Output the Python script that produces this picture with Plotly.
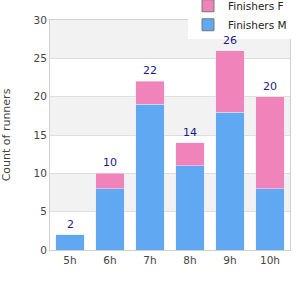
import plotly.graph_objects as go

categories = ["5h", "6h", "7h", "8h", "9h", "10h"]
finishers_m = [2, 8, 19, 11, 18, 8]
finishers_f = [0, 2, 3, 3, 8, 12]
totals = [m + f for m, f in zip(finishers_m, finishers_f)]
y_title = "Count of runners"

blue = "#60a8f2"
pink = "#f183bb"

fig = go.Figure()
fig.add_trace(go.Bar(x=categories, y=finishers_m, name="Finishers M", marker_color=blue,
                     showlegend=False, width=0.72))
fig.add_trace(go.Bar(x=categories, y=finishers_f, name="Finishers F", marker_color=pink,
                     showlegend=False, width=0.72))
# legend entries
fig.add_trace(go.Bar(x=[None], y=[None], name="Finishers M", marker=dict(color=blue, line=dict(color="#777", width=1))))
fig.add_trace(go.Bar(x=[None], y=[None], name="Finishers F", marker=dict(color=pink, line=dict(color="#777", width=1))))

for c, t in zip(categories, totals):
    fig.add_annotation(x=c, y=t, text=str(t), showarrow=False, yanchor="bottom", yshift=2,
                       font=dict(color="#1a1a8c", size=11, family="DejaVu Sans"))

for lo, hi in [(5, 10), (15, 20), (25, 30)]:
    fig.add_shape(type="rect", xref="paper", yref="y", x0=0, x1=1, y0=lo, y1=hi,
                  fillcolor="#f2f2f2", line_width=0, layer="below")

fig.update_layout(
    width=300, height=300,
    margin=dict(l=50, r=10, t=20, b=50, autoexpand=False),
    barmode="stack", bargap=0.28,
    plot_bgcolor="white", paper_bgcolor="white",
    font=dict(family="DejaVu Sans", size=10.5, color="#444"),
    legend=dict(x=0.575, y=1.125, xanchor="left", yanchor="top",
                traceorder="reversed", bgcolor="white", font=dict(size=10.5, color="#222"),
                itemwidth=30, tracegroupgap=0),
    xaxis=dict(showline=True, linecolor="#d0d0d0", mirror=True, ticks="", showgrid=False),
    yaxis=dict(range=[0, 30], dtick=5, showline=True, linecolor="#d0d0d0", mirror=True,
               gridcolor="#dddddd", zeroline=False, title=dict(text=y_title, standoff=20, font=dict(size=11))),
)
fig.write_html("out.html")
